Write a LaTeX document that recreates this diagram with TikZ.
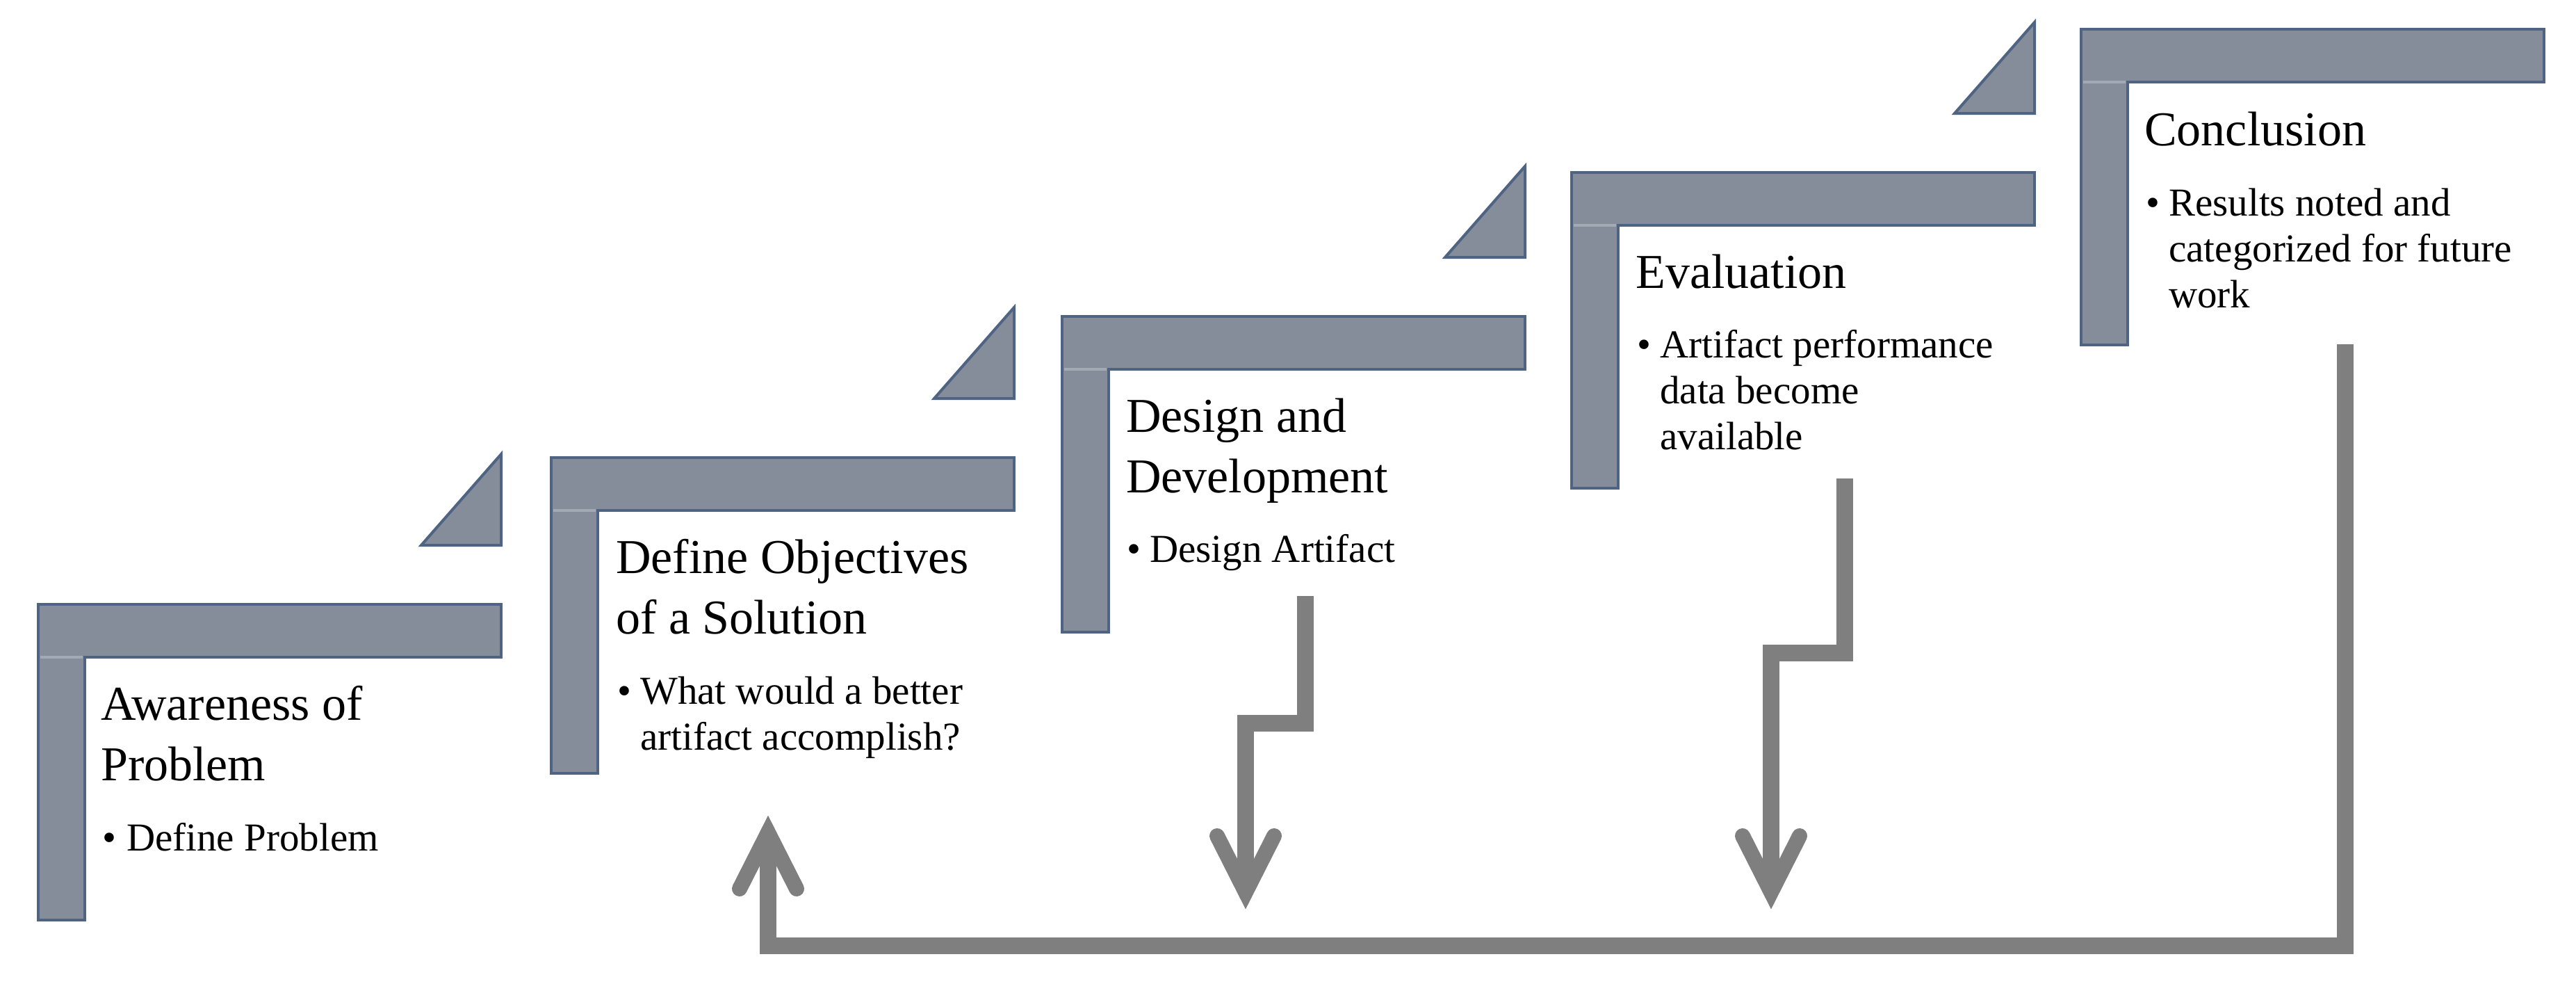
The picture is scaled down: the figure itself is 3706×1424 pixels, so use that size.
\documentclass[tikz,border=0pt]{standalone}
\usepackage{fontspec}
\setmainfont{Liberation Serif}
\definecolor{lfill}{HTML}{848D99}
\definecolor{lborder}{HTML}{4E6482}
\definecolor{ljunc}{HTML}{A2AAB4}
\definecolor{agray}{HTML}{7F7F7F}
\newcommand{\drawLshape}[2]{%
  \draw[stepfill] (#1,#2) -- ({#1+666},#2) -- ({#1+666},{#2+76}) -- ({#1+67},{#2+76})
     -- ({#1+67},{#2+454}) -- (#1,{#2+454}) -- cycle;
  \draw[junc] ({#1+3},{#2+76}) -- ({#1+64},{#2+76});}
\newcommand{\drawTri}[2]{%
  \draw[stepfill] ({#1+666},{#2-216}) -- ({#1+666},{#2-85}) -- ({#1+551},{#2-85}) -- cycle;}
\begin{document}
\begin{tikzpicture}[x=1pt,y=-1pt,
  stepfill/.style={fill=lfill,draw=lborder,line width=4pt,line join=miter},
  junc/.style={draw=ljunc,line width=4pt},
  ttl/.style={anchor=base west,inner sep=0pt,font=\fontsize{70}{87}\selectfont},
  btx/.style={anchor=base west,inner sep=0pt,font=\fontsize{57}{66}\selectfont},
  conn/.style={draw=agray,line width=24pt,line join=miter},
  ahead/.style={draw=agray,line width=22pt,line cap=round,line join=miter,miter limit=10}]
\useasboundingbox[fill=white] (0,0) rectangle (3706,1424);

% step shapes
\drawTri{55}{869}
\drawTri{793}{658}
\drawTri{1528}{455}
\drawTri{2261}{248}
\drawLshape{55}{869}
\drawLshape{793}{658}
\drawLshape{1528}{455}
\drawLshape{2261}{248}
\drawLshape{2994}{42}

% step 1
\node[ttl] (t1a) at (145,1035) {Awareness of};
\node[ttl] (t1b) at (145,1122) {Problem};
\node[btx] (b1) at (147,1223) {•};
\node[btx] (b1a) at (182,1223) {Define Problem};

% step 2
\node[ttl] (t2a) at (886,824) {Define Objectives};
\node[ttl] (t2b) at (886,911) {of a Solution};
\node[btx] (b2) at (888,1012) {•};
\node[btx] (b2a) at (921,1012) {What would a better};
\node[btx] (b2b) at (921,1078) {artifact accomplish?};

% step 3
\node[ttl] (t3a) at (1620,621) {Design and};
\node[ttl] (t3b) at (1620,708) {Development};
\node[btx] (b3) at (1621,808) {•};
\node[btx] (b3a) at (1654,808) {Design Artifact};

% step 4
\node[ttl] (t4a) at (2353,414) {Evaluation};
\node[btx] (b4) at (2355,514) {•};
\node[btx] (b4a) at (2388,514) {Artifact performance};
\node[btx] (b4b) at (2388,580) {data become};
\node[btx] (b4c) at (2388,646) {available};

% step 5
\node[ttl] (t5a) at (3085,209) {Conclusion};
\node[btx] (b5) at (3087,310) {•};
\node[btx] (b5a) at (3120,310) {Results noted and};
\node[btx] (b5b) at (3120,376) {categorized for future};
\node[btx] (b5c) at (3120,442) {work};

% connector A (Design -> down)
\coordinate (a0) at (1878,857);
\coordinate (a1) at (1792,1040);
\coordinate (a2) at (1792,1278);
\coordinate (atip) at (1792,1308);
\coordinate (aL) at (1751,1202);
\coordinate (aV) at (1792,1283);
\coordinate (aR) at (1833,1202);
\draw[conn] (a0) |- (a1) -- (a2);
\draw[ahead] (aL) -- (aV) -- (aR);

% connector B (Evaluation -> down)
\coordinate (e0) at (2654,688);
\coordinate (e1) at (2548,939);
\coordinate (e2) at (2548,1278);
\coordinate (eL) at (2507,1202);
\coordinate (eV) at (2548,1283);
\coordinate (eR) at (2589,1202);
\draw[conn] (e0) |- (e1) -- (e2);
\draw[ahead] (eL) -- (eV) -- (eR);

% return connector (Conclusion -> Define Objectives)
\coordinate (r0) at (3374,495);
\coordinate (r1) at (1105,1360);
\coordinate (r2) at (1105,1202);
\coordinate (rL) at (1064,1278);
\coordinate (rV) at (1105,1197);
\coordinate (rR) at (1146,1278);
\draw[conn] (r0) |- (r1) -- (r2);
\draw[ahead] (rL) -- (rV) -- (rR);
\end{tikzpicture}
\end{document}
